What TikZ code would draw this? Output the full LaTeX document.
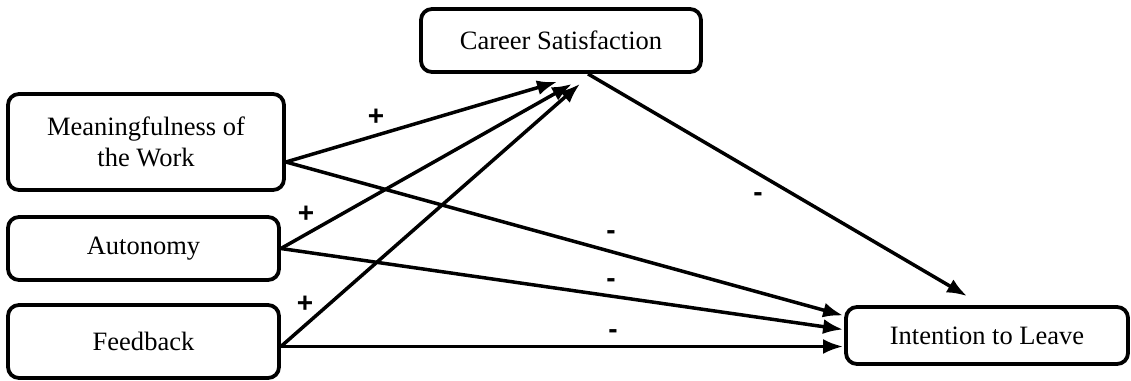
\documentclass[tikz,border=0pt]{standalone}
\usepackage{fontspec}
\setmainfont{Liberation Serif}
\newfontfamily\signfont{Liberation Sans}
\usetikzlibrary{arrows.meta}
\begin{document}
\begin{tikzpicture}[x=1pt, y=-1pt, >={Latex[length=20pt,width=15pt]},
		box/.style={draw, line width=3.8pt, rounded corners=11pt, align=center,
			inner sep=0pt, font=\fontsize{26.5}{31}\selectfont},
		link/.style={->, line width=3.5pt},
		sign/.style={font=\fontsize{28}{28}\signfont\bfseries}]
	\useasboundingbox (0,0) rectangle (1131,380);
	% Các biến
	\node[box, minimum width=276pt, minimum height=96pt] (mean) at (146,142) {Meaningfulness of\\the Work};
	\node[box, minimum width=271pt, minimum height=63pt] (auto) at (143.5,248.5) {Autonomy};
	\node[box, minimum width=271pt, minimum height=73pt] (feed) at (143.5,341.5) {Feedback};
	\node[box, minimum width=280pt, minimum height=63pt] (sat) at (561,40.5) {Career Satisfaction};
	\node[box, minimum width=282pt, minimum height=57pt] (leave) at (987,335.5) {Intention to Leave};
	% Các đường
	\draw[link] ([yshift=-20pt]mean.east) -- ([xshift=-4pt,yshift=-8pt]sat.south);
	\draw[link] (auto.east) -- ([xshift=11pt,yshift=-10pt]sat.south);
	\draw[link] ([yshift=-5pt]feed.east) -- ([xshift=19pt,yshift=-10pt]sat.south);
	\draw[link] ([yshift=-20pt]mean.east) -- ([xshift=-1pt,yshift=20pt]leave.west);
	\draw[link] (auto.east) -- ([xshift=-1pt,yshift=6pt]leave.west);
	\draw[link] ([yshift=-5pt]feed.east) -- ([xshift=-1pt,yshift=-11pt]leave.west);
	\draw[link] ([xshift=27pt]sat.south) -- ([xshift=-20pt,yshift=9pt]leave.north);
	% Dấu
	\node[sign] (s1) at (376,117) {+};
	\node[sign] (s2) at (306,214) {+};
	\node[sign] (s3) at (305,304) {+};
	\node[sign] (s4) at (611,235) {-};
	\node[sign] (s5) at (611,283) {-};
	\node[sign] (s6) at (613,334) {-};
	\node[sign] (s7) at (758,197) {-};
\end{tikzpicture}
\end{document}
